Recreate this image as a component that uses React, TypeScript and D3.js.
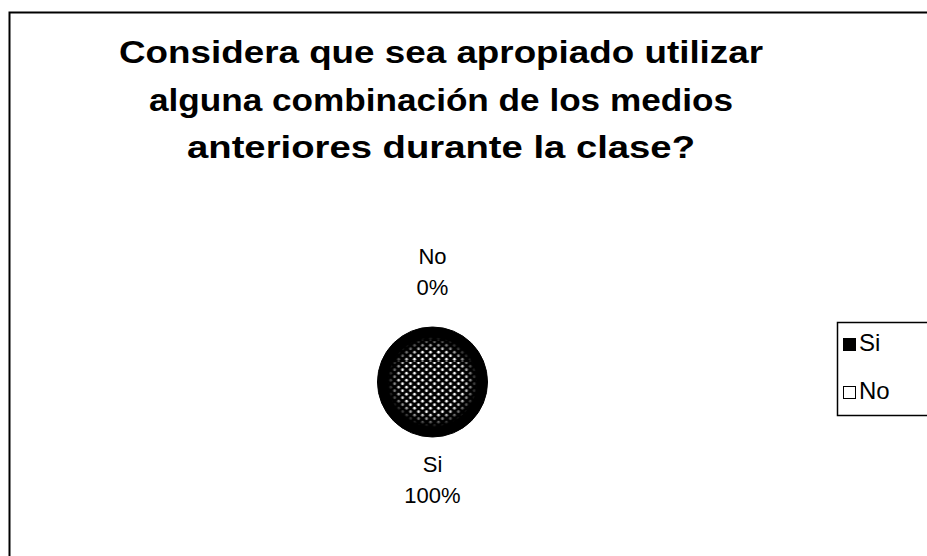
import React from "react";
import * as d3 from "d3";

const categories = ["Si", "No"];
const values = [100, 0];
const titleLines = [
  "Considera que sea apropiado utilizar",
  "alguna combinación de los medios",
  "anteriores durante la clase?",
];
const titleWidths = [644, 584, 508];

const W = 927;
const H = 556;
const FONT = "'Liberation Sans', Arial, Helvetica, sans-serif";

export default function App() {
  const cx = 432.5;
  const cy = 382;
  const r = 55;
  const total = d3.sum(values);
  const pie = d3.pie<number>().sort(null).startAngle(0).endAngle(2 * Math.PI);
  const arcs = pie(values);
  const arcGen = d3.arc<d3.PieArcDatum<number>>().innerRadius(0).outerRadius(r);
  const innerGen = d3.arc<d3.PieArcDatum<number>>().innerRadius(0).outerRadius(r * 0.82);
  const labelArc = d3.arc<d3.PieArcDatum<number>>().innerRadius(104).outerRadius(104);
  const fmt = d3.format(".0%");

  return (
    <svg
      width={W}
      height={H}
      style={{ position: "absolute", left: 0, top: 0, display: "block", background: "#fff" }}
      fontFamily={FONT}
    >
      <defs>
        <pattern id="dots" width="8" height="7" patternUnits="userSpaceOnUse">
          <rect width="8" height="7" fill="#000" />
          <circle cx="2" cy="1.75" r="1.4" fill="#fff" />
          <circle cx="6" cy="5.25" r="1.4" fill="#fff" />
        </pattern>
        <radialGradient id="fade" cx="0.5" cy="0.5" r="0.5">
          <stop offset="0" stopColor="#fff" />
          <stop offset="0.7" stopColor="#fff" />
          <stop offset="1" stopColor="#000" />
        </radialGradient>
        <mask id="fadeMask" maskUnits="userSpaceOnUse" x={-r} y={-r} width={2 * r} height={2 * r}>
          <circle cx={0} cy={0} r={r * 0.82} fill="url(#fade)" />
        </mask>
      </defs>
      <rect x={9.5} y={12.5} width={W + 20} height={H + 20} fill="#fff" stroke="#000" strokeWidth={2} />
      {titleLines.map((t, i) => (
        <text
          key={i}
          x={441}
          y={63 + i * 47.5}
          textAnchor="middle"
          fontSize={32}
          fontWeight="bold"
          fill="#000"
          textLength={titleWidths[i]}
          lengthAdjust="spacingAndGlyphs"
        >
          {t}
        </text>
      ))}
      <g transform={`translate(${cx},${cy})`}>
        {arcs.map((a, i) =>
          a.endAngle - a.startAngle > 0 ? (
            <g key={i}>
              <path d={arcGen(a) || ""} fill={i === 0 ? "#000" : "#fff"} stroke="#000" strokeWidth={1} />
              {i === 0 && <path d={innerGen(a) || ""} fill="url(#dots)" mask="url(#fadeMask)" />}
            </g>
          ) : null
        )}
      </g>
      {arcs.map((a, i) => {
        const [lx, ly] = labelArc.centroid(a);
        const y = cy + ly - 10;
        return (
          <text key={i} x={cx + lx} y={y} textAnchor="middle" fontSize={22} fill="#000">
            <tspan x={cx + lx} dy="-0.2em">{categories[i]}</tspan>
            <tspan x={cx + lx} dy={31}>{fmt(values[i] / total)}</tspan>
          </text>
        );
      })}
      <rect x={837.5} y={322.5} width={120} height={93} fill="#fff" stroke="#000" strokeWidth={1.5} />
      {categories.map((c, i) => (
        <g key={c} transform={`translate(843,${338 + i * 48})`}>
          <rect x={0.5} y={0.5} width={12} height={12} fill={i === 0 ? "#000" : "#fff"} stroke="#000" strokeWidth={1} />
          <text x={16} y={13} fontSize={24} fill="#000">{c}</text>
        </g>
      ))}
    </svg>
  );
}
